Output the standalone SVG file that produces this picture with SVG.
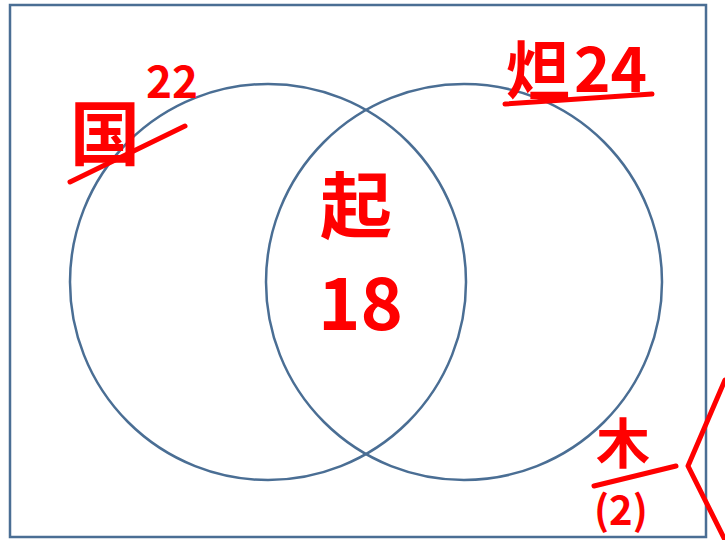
<svg xmlns="http://www.w3.org/2000/svg" width="725" height="540" viewBox="0 0 725 540">
<style>
.c{fill:none;stroke:#4a6e94;stroke-width:2.5}
.h{fill:#ff0000;font-family:"Noto Sans CJK SC","Noto Sans",sans-serif;font-weight:bold}
.r{fill:none;stroke:#ff0000;stroke-width:5;stroke-linecap:round;stroke-linejoin:round}
</style>
<rect x="0" y="0" width="725" height="540" fill="#ffffff"/>
<g id="frame"><rect class="c" x="10" y="5" width="696" height="532"/></g>
<g id="set-left"><circle class="c" cx="268" cy="282" r="198"/></g>
<g id="set-right"><circle class="c" cx="464" cy="282" r="198"/></g>
<g id="label-left">
<text class="h" x="70" y="160" font-size="70">国</text>
<text class="h" x="146" y="98" font-size="44" font-weight="normal">22</text>
<path class="r" d="M70 182 L185 126"/>
</g>
<g id="label-right">
<text class="h" x="506" y="94" font-size="64">炟</text>
<text class="h" x="574" y="92" font-size="62" font-weight="normal">24</text>
<path class="r" d="M505 104 L652 94"/>
</g>
<g id="label-center">
<text class="h" x="320" y="232" font-size="72">起</text>
<text class="h" x="318" y="330" font-size="72" font-weight="normal">18</text>
</g>
<g id="label-outside">
<text class="h" x="596" y="464" font-size="54">木</text>
<path class="r" d="M594 486 L676 466"/>
<text class="h" x="594" y="525" font-size="40">(2)</text>
<path class="r" d="M725 380 L688 466 L725 540"/>
</g>
</svg>
